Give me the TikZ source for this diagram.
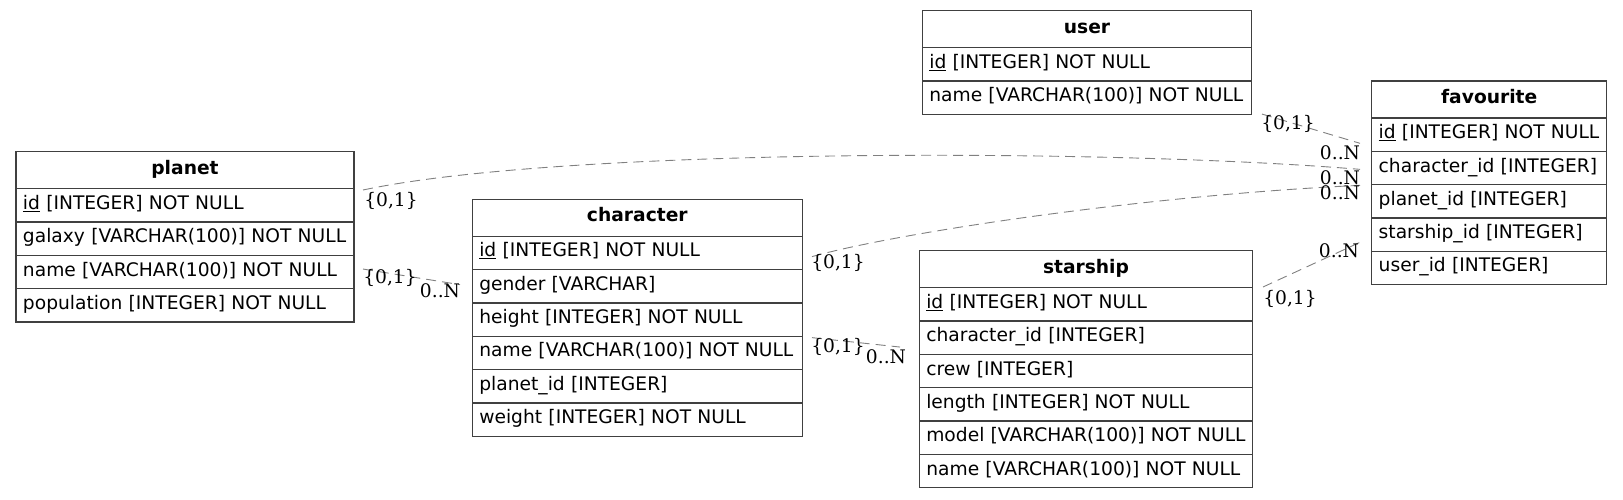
\documentclass[tikz,border=0pt]{standalone}
\usepackage{fontspec}
\usepackage{tikz}
\usetikzlibrary{positioning,calc}
\newfontfamily\tblfont{DejaVu Sans}
\newfontfamily\lblfont{DejaVu Serif}

\tikzset{
    hdr/.style={draw=black!75, line width=1.3pt, text width=#1, align=center,
        inner xsep=7pt, inner ysep=0pt, outer sep=0pt, minimum height=37pt,
        text height=14pt, text depth=6pt,
        font=\tblfont\fontsize{18.67}{22}\selectfont\bfseries},
    fld/.style={draw=black!75, line width=1.3pt, text width=#1, align=left,
        inner xsep=7pt, inner ysep=0pt, outer sep=0pt, minimum height=33.33pt,
        text height=14pt, text depth=6pt,
        font=\tblfont\fontsize{18.67}{22}\selectfont},
    rel/.style={draw=black!50, line width=0.9pt, dash pattern=on 10pt off 6pt},
    card/.style={inner sep=0pt, font=\lblfont\fontsize{18.67}{22}\selectfont}
}

\begin{document}
\begin{tikzpicture}[x=1pt,y=-1pt]
        \useasboundingbox (0,0) rectangle (1623,499);
        % planet
        \node[hdr=324pt, anchor=north west] at (16,151.7) (planet) {planet};
        \node[fld=324pt, below=0pt of planet] (planet-id) {\underline{id} [INTEGER] NOT NULL};
        \node[fld=324pt, below=0pt of planet-id] (planet-gal) {galaxy [VARCHAR(100)] NOT NULL};
        \node[fld=324pt, below=0pt of planet-gal] (planet-name) {name [VARCHAR(100)] NOT NULL};
        \node[fld=324pt, below=0pt of planet-name] (planet-pop) {population [INTEGER] NOT NULL};
        % character
        \node[hdr=316pt, anchor=north west] at (472.3,199.3) (char) {character};
        \node[fld=316pt, below=0pt of char] (char-id) {\underline{id} [INTEGER] NOT NULL};
        \node[fld=316pt, below=0pt of char-id] (char-gen) {gender [VARCHAR]};
        \node[fld=316pt, below=0pt of char-gen] (char-hgt) {height [INTEGER] NOT NULL};
        \node[fld=316pt, below=0pt of char-hgt] (char-name) {name [VARCHAR(100)] NOT NULL};
        \node[fld=316pt, below=0pt of char-name] (char-pla) {planet\_id [INTEGER]};
        \node[fld=316pt, below=0pt of char-pla] (char-wgt) {weight [INTEGER] NOT NULL};
        % user
        \node[hdr=315.4pt, anchor=north west] at (922.3,10.7) (user) {user};
        \node[fld=315.4pt, below=0pt of user] (user-id) {\underline{id} [INTEGER] NOT NULL};
        \node[fld=315.4pt, below=0pt of user-id] (user-name) {name [VARCHAR(100)] NOT NULL};
        % starship
        \node[hdr=319.4pt, anchor=north west] at (919.3,250.7) (ship) {starship};
        \node[fld=319.4pt, below=0pt of ship] (ship-id) {\underline{id} [INTEGER] NOT NULL};
        \node[fld=319.4pt, below=0pt of ship-id] (ship-chr) {character\_id [INTEGER]};
        \node[fld=319.4pt, below=0pt of ship-chr] (ship-crew) {crew [INTEGER]};
        \node[fld=319.4pt, below=0pt of ship-crew] (ship-len) {length [INTEGER] NOT NULL};
        \node[fld=319.4pt, below=0pt of ship-len] (ship-mod) {model [VARCHAR(100)] NOT NULL};
        \node[fld=319.4pt, below=0pt of ship-mod] (ship-name) {name [VARCHAR(100)] NOT NULL};
        % favourite
        \node[hdr=221pt, anchor=north west] at (1371.7,81) (fav) {favourite};
        \node[fld=221pt, below=0pt of fav] (fav-id) {\underline{id} [INTEGER] NOT NULL};
        \node[fld=221pt, below=0pt of fav-id] (fav-chr) {character\_id [INTEGER]};
        \node[fld=221pt, below=0pt of fav-chr] (fav-pla) {planet\_id [INTEGER]};
        \node[fld=221pt, below=0pt of fav-pla] (fav-shp) {starship\_id [INTEGER]};
        \node[fld=221pt, below=0pt of fav-shp] (fav-usr) {user\_id [INTEGER]};

        % relations
        \draw[rel] ($(planet.south east)+(9,1.3)$) .. controls (560,148) and (1100,148) .. ($(fav-chr.west)+(-11.7,1.35)$)
            node[card, at start, xshift=28pt, yshift=-11pt] {\{0,1\}}
            node[card, at end, xshift=-20pt, yshift=-8.5pt] {0..N};
        \draw[rel] ($(char-id.east)+(9.7,3.65)$) .. controls (900,232) and (1150,195) .. ($(fav-pla.north west)+(-11.7,0.7)$)
            node[card, at start, xshift=26pt, yshift=-6.5pt] {\{0,1\}}
            node[card, at end, xshift=-20pt, yshift=-7pt] {0..N};
        \draw[rel] ($(user-name.south east)+(10.3,-0.3)$) -- ($(fav-id.west)+(-11.7,8.65)$)
            node[card, at start, xshift=26pt, yshift=-10pt] {\{0,1\}}
            node[card, at end, xshift=-20pt, yshift=-9.5pt] {0..N};
        \draw[rel] ($(planet-name.east)+(9,-3)$) -- ($(char-gen.west)+(-12.3,-1.65)$)
            node[card, at start, xshift=27pt, yshift=-9pt] {\{0,1\}}
            node[card, at end, xshift=-20pt, yshift=-6pt] {0..N};
        \draw[rel] ($(char-hgt.south east)+(9.7,1.35)$) -- ($(ship-chr.west)+(-19.3,9.35)$)
            node[card, at start, xshift=26pt, yshift=-9pt] {\{0,1\}}
            node[card, at end, xshift=-14pt, yshift=-9.5pt] {0..N};
        \draw[rel] ($(ship.south east)+(10.3,-0.7)$) -- ($(fav-shp.west)+(-11.7,7.65)$)
            node[card, at start, xshift=27pt, yshift=-12pt] {\{0,1\}}
            node[card, at end, xshift=-21pt, yshift=-8.5pt] {0..N};
    \end{tikzpicture}
\end{document}
